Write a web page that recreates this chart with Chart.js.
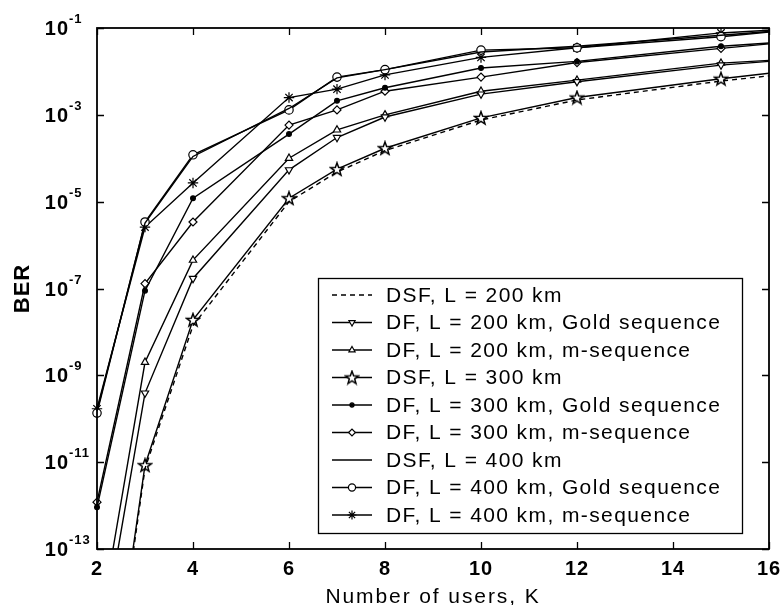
<!DOCTYPE html>
<html>
<head>
<meta charset="utf-8">
<script src="https://cdn.jsdelivr.net/npm/chart.js@4.4.1/dist/chart.umd.min.js"></script>
<style>
  html, body { margin: 0; padding: 0; background: #fff; }
  #wrap { width: 783px; height: 605px; }
</style>
</head>
<body>
<div id="wrap"><canvas id="c" width="783" height="605"></canvas></div>
<script>
// Number of simultaneous users K
const users = [2, 3, 4, 6, 7, 8, 10, 12, 15, 16];

// Bit error rate for each fibre configuration
const dsf200   = [1.0e-19, 7.1e-12, 1.4e-8, 1.0e-5, 4.8e-5, 1.5e-4, 7.6e-4, 2.2e-3, 6.0e-3, 7.9e-3];
const df200Gold = [1.6e-16, 3.9e-10, 1.7e-7, 5.4e-5, 3.0e-4, 8.9e-4, 3.0e-3, 5.8e-3, 1.4e-2, 1.7e-2];
const df200M   = [7.1e-16, 2.0e-9, 4.5e-7, 1.0e-4, 4.5e-4, 1.0e-3, 3.5e-3, 6.3e-3, 1.55e-2, 1.8e-2];
const dsf300   = [1.6e-19, 8.5e-12, 1.9e-8, 1.2e-5, 5.6e-5, 1.7e-4, 8.5e-4, 2.5e-3, 6.8e-3, 9.1e-3];
const df300Gold = [9.1e-13, 8.9e-8, 1.2e-5, 3.6e-4, 2.1e-3, 4.2e-3, 1.2e-2, 1.7e-2, 3.8e-2, 4.5e-2];
const df300M   = [1.2e-12, 1.3e-7, 3.4e-6, 5.8e-4, 1.3e-3, 3.5e-3, 7.4e-3, 1.6e-2, 3.4e-2, 4.3e-2];
const dsf400   = [1.5e-10, 3.2e-6, 1.1e-4, 1.4e-3, 7.1e-3, 1.1e-2, 2.8e-2, 3.8e-2, 6.8e-2, 8.3e-2];
const df400Gold = [1.35e-10, 3.4e-6, 1.2e-4, 1.3e-3, 7.4e-3, 1.1e-2, 3.1e-2, 3.5e-2, 6.3e-2, 8.1e-2];
const df400M   = [1.7e-10, 2.6e-6, 2.7e-5, 2.5e-3, 3.9e-3, 8.3e-3, 2.1e-2, 3.5e-2, 7.7e-2, 8.9e-2];

const seriesLabels = [
  'DSF, L = 200 km',
  'DF, L = 200 km, Gold sequence',
  'DF, L = 200 km, m-sequence',
  'DSF, L = 300 km',
  'DF, L = 300 km, Gold sequence',
  'DF, L = 300 km, m-sequence',
  'DSF, L = 400 km',
  'DF, L = 400 km, Gold sequence',
  'DF, L = 400 km, m-sequence'
];

// Axis ticks
const xTickValues = [2, 4, 6, 8, 10, 12, 14, 16];
const yTickExponents = [-13, -11, -9, -7, -5, -3, -1];
const xTitle = 'Number of users, K';
const yTitle = 'BER';

// Hollow five-pointed star marker
const starMarker = (() => {
  const c = document.createElement('canvas');
  c.width = 16; c.height = 16;
  const g = c.getContext('2d');
  g.beginPath();
  for (let k = 0; k < 10; k++) {
    const r = k % 2 ? 2.8 : 6.8;
    const ang = -Math.PI / 2 + k * Math.PI / 5;
    const px = 8 + r * Math.cos(ang), py = 8.5 + r * Math.sin(ang);
    if (k) g.lineTo(px, py); else g.moveTo(px, py);
  }
  g.closePath();
  g.fillStyle = '#fff';
  g.fill();
  g.lineWidth = 1.5;
  g.lineJoin = 'miter';
  g.strokeStyle = '#000';
  g.stroke();
  return c;
})();

const seriesValues = [dsf200, df200Gold, df200M, dsf300, df300Gold, df300M, dsf400, df400Gold, df400M];
const seriesMarkers = [
  { style: false, radius: 0, dash: [5, 4] },
  { style: 'triangle', radius: 4.2, rotation: 180 },
  { style: 'triangle', radius: 4.2 },
  { style: starMarker, radius: 5 },
  { style: 'circle', radius: 2.4, filled: true },
  { style: 'rectRot', radius: 4 },
  { style: false, radius: 0 },
  { style: 'circle', radius: 4.2 },
  { style: 'star', radius: 5.2 }
];

const lastUser = users[users.length - 1];

const datasets = seriesValues.map((vals, i) => {
  const m = seriesMarkers[i];
  return {
    label: seriesLabels[i],
    data: users.map((u, j) => ({ x: u, y: vals[j] })),
    borderColor: '#000',
    borderWidth: 1.4,
    borderDash: m.dash || [],
    pointStyle: m.style || 'circle',
    pointRotation: m.rotation || 0,
    pointRadius: (ctx) => (ctx.raw && ctx.raw.x === lastUser) ? 0 : m.radius,
    pointBorderColor: '#000',
    pointBorderWidth: 1.2,
    pointBackgroundColor: m.filled ? '#000' : '#fff',
    tension: 0,
    fill: false,
    clip: { left: 8, top: 0, right: 0, bottom: 0 }
  };
});

const FONT = "'Liberation Sans', Arial, sans-serif";

// Frame, inward ticks, tick labels, axis titles and the legend box
const axisDecor = {
  id: 'axisDecor',
  afterDatasetsDraw(chart) {
    const { ctx, chartArea: a, scales } = chart;
    const xs = scales.x, ys = scales.y;
    const hasSpacing = 'letterSpacing' in ctx;
    const spacing = (v) => { if (hasSpacing) ctx.letterSpacing = v; };
    ctx.save();
    ctx.strokeStyle = '#000';
    ctx.fillStyle = '#000';

    // ticks
    ctx.lineWidth = 1.3;
    const tl = 7;
    ctx.beginPath();
    xTickValues.forEach(v => {
      const px = Math.round(xs.getPixelForValue(v)) + 0.5;
      ctx.moveTo(px, a.bottom); ctx.lineTo(px, a.bottom - tl);
      ctx.moveTo(px, a.top); ctx.lineTo(px, a.top + tl);
    });
    yTickExponents.forEach(e => {
      const py = Math.round(ys.getPixelForValue(Math.pow(10, e))) + 0.5;
      ctx.moveTo(a.left, py); ctx.lineTo(a.left + tl, py);
      ctx.moveTo(a.right, py); ctx.lineTo(a.right - tl, py);
    });
    ctx.stroke();

    // frame
    ctx.lineWidth = 1.8;
    ctx.strokeRect(a.left, a.top, a.right - a.left, a.bottom - a.top);

    spacing('1px');

    // x tick labels
    ctx.font = 'bold 20px ' + FONT;
    ctx.textAlign = 'center';
    ctx.textBaseline = 'alphabetic';
    xTickValues.forEach(v => {
      ctx.fillText(String(v), xs.getPixelForValue(v), a.bottom + 26);
    });

    // y tick labels as powers of ten
    yTickExponents.forEach(e => {
      const py = ys.getPixelForValue(Math.pow(10, e));
      ctx.font = 'bold 20px ' + FONT;
      ctx.textAlign = 'right';
      ctx.fillText('10', a.left - 28, py + 7);
      ctx.font = 'bold 13px ' + FONT;
      ctx.textAlign = 'left';
      ctx.fillText(String(e), a.left - 28, py - 5);
    });

    // axis titles
    ctx.font = '21px ' + FONT;
    spacing('1.9px');
    ctx.textAlign = 'center';
    ctx.fillText(xTitle, (a.left + a.right) / 2, 603);
    ctx.save();
    ctx.translate(29, (a.top + a.bottom) / 2);
    ctx.rotate(-Math.PI / 2);
    ctx.font = 'bold 22px ' + FONT;
    spacing('1px');
    ctx.fillText(yTitle, 0, 0);
    ctx.restore();

    // legend
    const box = { left: 318, top: 278, right: 742, bottom: 533 };
    ctx.fillStyle = '#fff';
    ctx.fillRect(box.left, box.top, box.right - box.left, box.bottom - box.top);
    ctx.lineWidth = 1.3;
    ctx.strokeRect(box.left + 0.5, box.top + 0.5, box.right - box.left, box.bottom - box.top);
    const rowGap = 27.5, firstRow = 295;
    chart.data.datasets.forEach((ds, i) => {
      const yy = firstRow + i * rowGap;
      ctx.strokeStyle = '#000';
      ctx.lineWidth = ds.borderWidth;
      ctx.setLineDash(ds.borderDash);
      ctx.beginPath();
      ctx.moveTo(332, yy); ctx.lineTo(372, yy);
      ctx.stroke();
      ctx.setLineDash([]);
      const m = seriesMarkers[i];
      if (m.style) {
        ctx.fillStyle = ds.pointBackgroundColor;
        ctx.lineWidth = ds.pointBorderWidth;
        Chart.helpers.drawPoint(ctx, {
          pointStyle: m.style, rotation: m.rotation || 0,
          radius: m.radius * 0.85, borderWidth: ds.pointBorderWidth
        }, 352, yy);
      }
      ctx.fillStyle = '#000';
      ctx.font = '21px ' + FONT;
      spacing('1.4px');
      ctx.textAlign = 'left';
      ctx.textBaseline = 'middle';
      ctx.fillText(ds.label, 386, yy + 1);
      ctx.textBaseline = 'alphabetic';
    });

    ctx.restore();
  }
};

new Chart(document.getElementById('c'), {
  type: 'line',
  data: { datasets },
  options: {
    responsive: false,
    animation: false,
    devicePixelRatio: 1,
    layout: { padding: { left: 97, top: 28, right: 14, bottom: 56 } },
    plugins: { legend: { display: false }, tooltip: { enabled: false } },
    scales: {
      x: { type: 'linear', min: 2, max: 16, display: false },
      y: { type: 'logarithmic', min: 1e-13, max: 1e-1, display: false }
    }
  },
  plugins: [axisDecor]
});
</script>
</body>
</html>
